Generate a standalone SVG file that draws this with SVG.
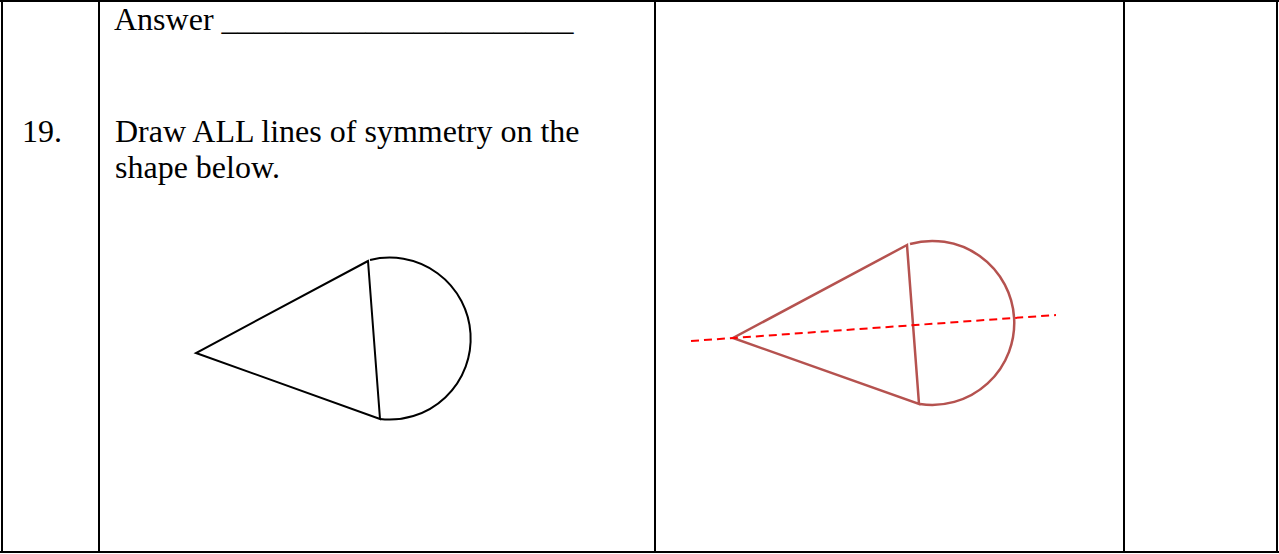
<svg xmlns="http://www.w3.org/2000/svg" width="1279" height="554" viewBox="0 0 1279 554">
<style>
.t{font-family:"Liberation Serif","Times New Roman",serif;font-size:32px;fill:#000}
.b{stroke:#000;stroke-width:2;fill:none}
.s{stroke:#000;stroke-width:2;fill:none;stroke-linejoin:miter}
.r{stroke:#b5524f;stroke-width:2.5;fill:none}
</style>
<rect width="1279" height="554" fill="#fff"/>
<g id="table">
<line class="b" x1="0" y1="1" x2="1279" y2="1"/>
<line class="b" x1="0" y1="552" x2="1279" y2="552"/>
<line class="b" x1="2" y1="0" x2="2" y2="553"/>
<line class="b" x1="99" y1="0" x2="99" y2="553"/>
<line class="b" x1="655" y1="0" x2="655" y2="553"/>
<line class="b" x1="1124" y1="0" x2="1124" y2="553"/>
<line class="b" x1="1277" y1="0" x2="1277" y2="553"/>
</g>
<g id="texts">
<text class="t" x="114" y="30">Answer ______________________</text>
<text class="t" x="22" y="142">19.</text>
<text class="t" x="115" y="142">Draw ALL lines of symmetry on the</text>
<text class="t" x="115" y="178">shape below.</text>
</g>
<g id="shape-question">
<path class="s" d="M368,261 L196,353 L380,419 Z"/>
<path class="s" d="M370,260 A81,81 0 1 1 380,419"/>
</g>
<g id="shape-answer">
<path class="r" d="M907,245 L733,338 L919,404 Z"/>
<path class="r" d="M910,244 A82,82 0 1 1 920,404"/>
<line x1="691" y1="341" x2="1056" y2="315" stroke="#ff0000" stroke-width="2" stroke-dasharray="8 5"/>
</g>
</svg>
